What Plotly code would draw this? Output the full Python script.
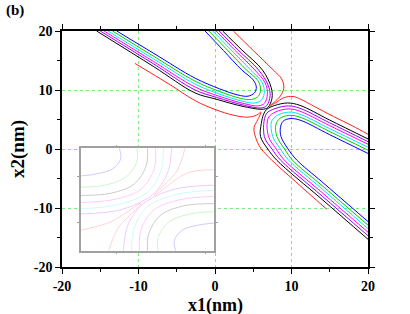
import plotly.graph_objects as go

# ---------------- data ----------------
x_tickvals = [-20, -10, 0, 10, 20]
x_ticktext = ["-20", "-10", "0", "10", "20"]
y_tickvals = [-20, -10, 0, 10, 20]
y_ticktext = ["-20", "-10", "0", "10", "20"]

# upper family (U-shaped curves above the saddle)
up_blue_x = [-12.85, -8.0, -2.6, 0.6, 3.0, 4.3, 5.15, 5.4, 5.0, 3.5, 1.1, -1.3]
up_blue_y = [20, 16.2, 12.0, 10.2, 9.15, 8.95, 9.5, 10.5, 11.7, 13.4, 16.7, 20]
up_green_x = [-13.4, -8.0, -2.6, 0.6, 3.3, 4.8, 5.7, 5.95, 5.6, 4.1, 1.6, -0.8]
up_green_y = [20, 15.7, 11.5, 9.75, 8.6, 8.4, 9.0, 10.2, 11.6, 13.4, 16.8, 20]
up_cyan_x = [-14.0, -8.0, -2.6, 0.5, 3.6, 5.25, 6.15, 6.45, 6.1, 4.65, 2.1, -0.3]
up_cyan_y = [20, 15.25, 11.0, 9.35, 8.1, 7.8, 8.4, 9.8, 11.4, 13.4, 16.8, 20]
up_magenta_x = [-14.5, -8.0, -2.6, 0.4, 3.8, 5.65, 6.5, 6.85, 6.55, 5.2, 2.55, 0.15]
up_magenta_y = [20, 14.8, 10.5, 9.0, 7.7, 7.3, 7.8, 9.4, 11.2, 13.4, 16.8, 20]
up_purple_x = [-15.0, -8.0, -2.6, 0.2, 3.85, 6.0, 6.75, 7.2, 6.95, 5.7, 3.0, 0.55]
up_purple_y = [20, 14.4, 10.0, 8.75, 7.4, 6.95, 7.35, 9.0, 10.8, 13.4, 16.8, 20]
up_black_x = [-15.47, -8.0, -2.6, 0.0, 3.9, 6.35, 6.95, 7.45, 7.35, 6.2, 3.5, 1.0]
up_black_y = [20, 13.95, 9.5, 8.5, 7.15, 6.75, 7.1, 8.6, 10.4, 13.4, 16.8, 20]

# lower family (U-shaped curves below the saddle)
lo_blue_x = [20, 15.0, 11.1, 9.8, 8.9, 8.55, 8.63, 9.55, 10.68, 14.0, 20]
lo_blue_y = [-0.75, 2.42, 4.9, 5.15, 4.7, 3.6, 2.1, 0.0, -1.86, -5.58, -12.3]
lo_green_x = [20, 15.0, 11.1, 9.7, 8.5, 7.95, 8.1, 9.1, 10.1, 14.0, 20]
lo_green_y = [-0.2, 2.95, 5.4, 5.7, 5.2, 4.1, 2.1, 0.0, -1.86, -6.21, -12.9]
lo_cyan_x = [20, 15.0, 11.1, 9.7, 8.2, 7.4, 7.55, 8.55, 9.6, 14.0, 20]
lo_cyan_y = [0.3, 3.45, 5.9, 6.25, 5.75, 4.7, 2.1, 0.0, -1.86, -6.78, -13.5]
lo_magenta_x = [20, 15.0, 11.1, 9.65, 7.95, 6.95, 7.0, 8.0, 9.05, 14.0, 20]
lo_magenta_y = [0.8, 3.95, 6.4, 6.8, 6.3, 5.25, 2.1, 0.0, -1.86, -7.39, -14.1]
lo_purple_x = [20, 15.0, 11.1, 9.6, 7.85, 6.7, 6.45, 7.45, 8.55, 14.0, 20]
lo_purple_y = [1.25, 4.43, 6.9, 7.3, 6.85, 5.95, 2.1, 0.0, -1.86, -7.97, -14.7]
lo_black_x = [20, 15.0, 11.1, 9.5, 7.75, 6.75, 6.35, 6.05, 5.95, 6.9, 8.05, 14.0, 20]
lo_black_y = [1.7, 4.9, 7.4, 7.8, 7.35, 6.7, 5.9, 4.3, 2.1, 0.0, -1.86, -8.55, -15.3]

# red curves (left and right of the saddle)
red_left_x = [-10.46, -6.0, -2.6, 0.0, 2.5, 4.3, 5.45, 6.0, 5.6, 5.1, 5.3, 6.0, 7.4, 10.5, 14.6]
red_left_y = [14.5, 11.0, 8.2, 6.7, 5.7, 5.4, 5.75, 6.25, 5.0, 3.6, 2.0, 0.1, -1.86, -5.5, -10.2]
red_right_x = [2.4, 5.0, 7.6, 8.7, 9.0, 8.7, 7.95, 7.05, 7.9, 9.0, 10.2, 11.1, 13.0, 15.5, 18.0, 20.0]
red_right_y = [20, 16.7, 13.4, 11.9, 10.5, 9.3, 8.15, 7.25, 7.8, 8.7, 8.9, 8.5, 7.2, 5.5, 3.9, 2.5]

# inset curves, in inset box units (0..1)
in_ul_blue_u = [0.29, 0.30, 0.24, 0.12, 0.0]
in_ul_blue_v = [1.0, 0.90, 0.80, 0.75, 0.73]
in_ul_green_u = [0.42, 0.42, 0.34, 0.18, 0.0]
in_ul_green_v = [1.0, 0.87, 0.72, 0.64, 0.62]
in_ul_gray_u = [0.50, 0.49, 0.40, 0.22, 0.0]
in_ul_gray_v = [1.0, 0.83, 0.65, 0.56, 0.54]
in_ul_magenta_u = [0.56, 0.55, 0.45, 0.25, 0.0]
in_ul_magenta_v = [1.0, 0.80, 0.60, 0.50, 0.47]
in_ul_cyan_u = [0.62, 0.60, 0.50, 0.28, 0.0]
in_ul_cyan_v = [1.0, 0.78, 0.57, 0.45, 0.41]
in_ul_purple_u = [0.68, 0.65, 0.54, 0.30, 0.0]
in_ul_purple_v = [1.0, 0.76, 0.55, 0.40, 0.36]

in_lr_blue_u = [0.71, 0.70, 0.76, 0.88, 1.0]
in_lr_blue_v = [0.0, 0.10, 0.20, 0.25, 0.27]
in_lr_green_u = [0.58, 0.58, 0.66, 0.82, 1.0]
in_lr_green_v = [0.0, 0.13, 0.28, 0.36, 0.38]
in_lr_gray_u = [0.50, 0.51, 0.60, 0.78, 1.0]
in_lr_gray_v = [0.0, 0.17, 0.35, 0.44, 0.46]
in_lr_magenta_u = [0.44, 0.45, 0.55, 0.75, 1.0]
in_lr_magenta_v = [0.0, 0.20, 0.40, 0.50, 0.53]
in_lr_cyan_u = [0.38, 0.40, 0.50, 0.72, 1.0]
in_lr_cyan_v = [0.0, 0.22, 0.43, 0.55, 0.59]
in_lr_purple_u = [0.32, 0.35, 0.46, 0.70, 1.0]
in_lr_purple_v = [0.0, 0.24, 0.45, 0.60, 0.64]

in_ll_pink_u = [0.0, 0.22, 0.45, 0.28, 0.21]
in_ll_pink_v = [0.20, 0.28, 0.46, 0.22, 0.0]
in_ur_pink_u = [0.78, 0.72, 0.55, 0.80, 1.0]
in_ur_pink_v = [1.0, 0.78, 0.54, 0.76, 0.79]

# ---------------- figure ----------------
fig = go.Figure()

C_BLUE, C_GREEN, C_CYAN = "#0000ff", "#00d000", "#00e5ff"
C_MAG, C_PUR, C_BLK, C_RED = "#ff00ff", "#9a00ff", "#000000", "#ff2020"

def add_line(x, y, color, width=1.0, xa="x", ya="y", opacity=1.0):
    fig.add_trace(go.Scatter(x=x, y=y, mode="lines", xaxis=xa, yaxis=ya,
                             line=dict(color=color, width=width, shape="spline", smoothing=1.0),
                             opacity=opacity, hoverinfo="skip", showlegend=False))

main = [
    (up_blue_x, up_blue_y, C_BLUE), (up_green_x, up_green_y, C_GREEN),
    (up_cyan_x, up_cyan_y, C_CYAN), (up_magenta_x, up_magenta_y, C_MAG),
    (up_purple_x, up_purple_y, C_PUR), (up_black_x, up_black_y, C_BLK),
    (lo_blue_x, lo_blue_y, C_BLUE), (lo_green_x, lo_green_y, C_GREEN),
    (lo_cyan_x, lo_cyan_y, C_CYAN), (lo_magenta_x, lo_magenta_y, C_MAG),
    (lo_purple_x, lo_purple_y, C_PUR), (lo_black_x, lo_black_y, C_BLK),
    (red_left_x, red_left_y, C_RED), (red_right_x, red_right_y, C_RED),
]
for x, y, c in main:
    add_line(x, y, c, 1.0)

# white background of the inset box (covers the main grid behind it)
fig.add_trace(go.Scatter(x=[0, 1, 1, 0, 0], y=[0, 0, 1, 1, 0], xaxis="x2", yaxis="y2",
                         mode="lines", fill="toself", fillcolor="white",
                         line=dict(width=0, color="white"), hoverinfo="skip", showlegend=False))

inset = [
    (in_ul_blue_u, in_ul_blue_v, C_BLUE), (in_ul_green_u, in_ul_green_v, C_GREEN),
    (in_ul_gray_u, in_ul_gray_v, C_BLK), (in_ul_magenta_u, in_ul_magenta_v, C_MAG),
    (in_ul_cyan_u, in_ul_cyan_v, C_CYAN), (in_ul_purple_u, in_ul_purple_v, C_PUR),
    (in_lr_blue_u, in_lr_blue_v, C_BLUE), (in_lr_green_u, in_lr_green_v, C_GREEN),
    (in_lr_gray_u, in_lr_gray_v, C_BLK), (in_lr_magenta_u, in_lr_magenta_v, C_MAG),
    (in_lr_cyan_u, in_lr_cyan_v, C_CYAN), (in_lr_purple_u, in_lr_purple_v, C_PUR),
    (in_ll_pink_u, in_ll_pink_v, C_RED), (in_ur_pink_u, in_ur_pink_v, C_RED),
]
for u, v, c in inset:
    add_line(u, v, c, 0.8, xa="x2", ya="y2", opacity=0.25)

tickfont = dict(family="Liberation Serif", size=14, color="black", weight="bold")
titlefont = dict(family="Liberation Serif", size=19, color="black", weight="bold")
axis_common = dict(showline=True, linecolor="black", linewidth=1.5, mirror="allticks",
                   ticks="outside", ticklen=5, tickwidth=1.2, tickcolor="black",
                   showgrid=True, gridcolor="#80e880", griddash="dot", gridwidth=1,
                   zeroline=False, tickfont=tickfont, automargin=False,
                   minor=dict(ticks="outside", ticklen=3, tickcolor="black", tickwidth=1,
                              dtick=5, showgrid=False))

fig.update_layout(
    width=410, height=314,
    margin=dict(l=62, r=42, t=31, b=47),
    paper_bgcolor="white", plot_bgcolor="white",
    xaxis=dict(range=[-20, 20], tickvals=x_tickvals, ticktext=x_ticktext, **axis_common),
    yaxis=dict(range=[-20, 20], tickvals=y_tickvals, ticktext=y_ticktext,
               title=dict(text="x2(nm)", standoff=4, font=titlefont), **axis_common),
    xaxis2=dict(domain=[0.061, 0.498], anchor="y2", range=[0, 1], showgrid=False, zeroline=False,
                showline=True, linecolor="#a0a0a0", linewidth=1.5, mirror="allticks",
                ticks="outside", ticklen=2, tickcolor="#a0a0a0", tickvals=[0.27, 0.93],
                showticklabels=False, automargin=False),
    yaxis2=dict(domain=[0.069, 0.503], anchor="x2", range=[0, 1], showgrid=False, zeroline=False,
                showline=True, linecolor="#a0a0a0", linewidth=1.5, mirror="allticks",
                ticks="outside", ticklen=2, tickcolor="#a0a0a0", tickvals=[0.28, 0.72],
                showticklabels=False, automargin=False),
    annotations=[
        dict(text="(b)", xref="paper", yref="paper", x=-0.19, y=1.085,
             xanchor="left", yanchor="middle", showarrow=False,
             font=dict(family="Liberation Serif", size=15, color="black", weight="bold")),
        dict(text="x1(nm)", xref="paper", yref="paper", x=0.5, y=-0.112,
             xanchor="center", yanchor="top", showarrow=False,
             font=dict(family="Liberation Serif", size=18, color="black", weight="bold")),
    ],
)

fig.write_html("out.html", config={"displayModeBar": False},
               post_script="document.body.style.margin='0px';document.body.style.padding='0px';")
